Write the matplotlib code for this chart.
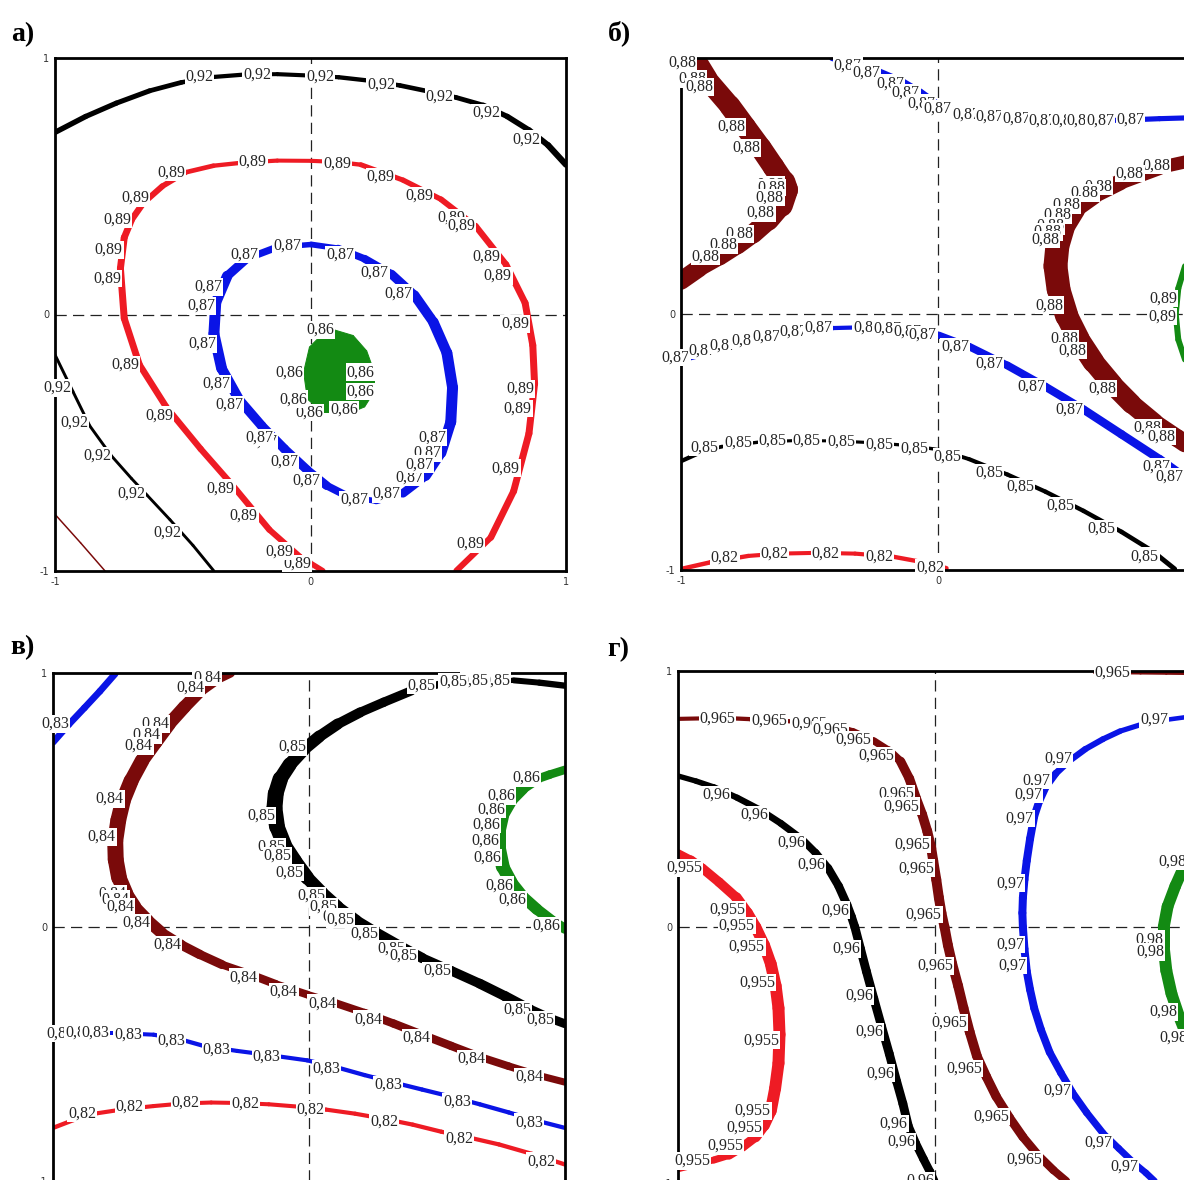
import numpy as np
import matplotlib
matplotlib.use("Agg")
import matplotlib.pyplot as plt
from matplotlib.collections import LineCollection

# ---- traced contour lines (coded factors, -1..1) ----
# panel a
a_092_top_x = [-1.0, -0.88, -0.76, -0.63, -0.505, -0.38, -0.251, -0.13, -0.012, 0.11, 0.227, 0.35, 0.466, 0.57, 0.676, 0.77, 0.855, 0.93, 1.0]
a_092_top_y = [0.71, 0.772, 0.824, 0.872, 0.905, 0.926, 0.936, 0.937, 0.932, 0.925, 0.912, 0.893, 0.869, 0.846, 0.816, 0.772, 0.719, 0.66, 0.584]
a_092_low_x = [-1.0, -0.93, -0.864, -0.78, -0.70, -0.64, -0.55, -0.46, -0.378]
a_092_low_y = [-0.157, -0.30, -0.434, -0.55, -0.64, -0.704, -0.80, -0.90, -1.0]
a_corner_x = [-1.0, -0.90, -0.804]
a_corner_y = [-0.779, -0.89, -1.0]
a_089_x = [0.048, -0.042, -0.161, -0.311, -0.43, -0.565, -0.67, -0.729, -0.744, -0.729, -0.70, -0.655, -0.58, -0.49, -0.38, -0.266, -0.13, 0.003, 0.10, 0.197, 0.362, 0.511, 0.646, 0.765, 0.84, 0.87, 0.877, 0.855, 0.795, 0.706, 0.571]
a_089_y = [-0.999, -0.944, -0.839, -0.659, -0.524, -0.36, -0.195, -0.015, 0.18, 0.30, 0.37, 0.434, 0.50, 0.554, 0.58, 0.592, 0.60, 0.599, 0.595, 0.584, 0.524, 0.449, 0.345, 0.195, 0.045, -0.12, -0.27, -0.464, -0.689, -0.869, -0.999]
a_087_x = [0.003, 0.108, 0.212, 0.317, 0.407, 0.481, 0.534, 0.556, 0.549, 0.511, 0.451, 0.362, 0.257, 0.152, 0.063, -0.012, -0.102, -0.191, -0.281, -0.348, -0.378, -0.371, -0.326, -0.251, -0.132, 0.003]
a_087_y = [0.273, 0.258, 0.217, 0.157, 0.075, -0.03, -0.15, -0.285, -0.419, -0.539, -0.629, -0.697, -0.727, -0.712, -0.667, -0.607, -0.524, -0.434, -0.33, -0.21, -0.075, 0.045, 0.15, 0.217, 0.262, 0.273]
a_086_x = [0.093, 0.167, 0.22, 0.25, 0.25, 0.212, 0.16, 0.048, -0.012, -0.027, -0.004, 0.048, 0.093]
a_086_y = [-0.06, -0.082, -0.142, -0.225, -0.30, -0.36, -0.382, -0.382, -0.33, -0.225, -0.127, -0.075, -0.06]

# panel b
b_088_left_x = [-0.95, -0.90, -0.81, -0.75, -0.69, -0.64, -0.60, -0.59, -0.61, -0.66, -0.72, -0.78, -0.85, -0.93, -1.0]
b_088_left_y = [1.0, 0.918, 0.813, 0.731, 0.649, 0.575, 0.515, 0.485, 0.425, 0.366, 0.313, 0.269, 0.224, 0.179, 0.13]
b_087_up_x = [-0.412, -0.323, -0.234, -0.145, -0.071, 0.003, 0.121, 0.27, 0.418, 0.566, 0.714, 0.862, 0.966, 1.0]
b_087_up_y = [1.0, 0.978, 0.948, 0.91, 0.866, 0.813, 0.784, 0.769, 0.757, 0.754, 0.757, 0.763, 0.766, 0.767]
b_087_low_x = [-1.0, -0.886, -0.767, -0.649, -0.53, -0.412, -0.293, -0.175, -0.071, 0.003, 0.121, 0.27, 0.418, 0.566, 0.714, 0.862, 0.966, 1.0]
b_087_low_y = [-0.179, -0.149, -0.119, -0.094, -0.07, -0.055, -0.052, -0.055, -0.067, -0.082, -0.127, -0.201, -0.284, -0.373, -0.47, -0.567, -0.642, -0.667]
b_085_x = [-1.0, -0.916, -0.841, -0.693, -0.545, -0.397, -0.249, -0.101, 0.003, 0.121, 0.27, 0.418, 0.566, 0.714, 0.833, 0.921]
b_085_y = [-0.575, -0.537, -0.518, -0.5, -0.494, -0.496, -0.503, -0.515, -0.53, -0.567, -0.627, -0.694, -0.769, -0.851, -0.925, -0.996]
b_082_x = [-1.0, -0.886, -0.738, -0.619, -0.471, -0.323, -0.175, -0.056, 0.033]
b_082_y = [-0.996, -0.97, -0.945, -0.936, -0.933, -0.936, -0.948, -0.97, -0.993]
b_088_right_x = [1.0, 0.966, 0.862, 0.709, 0.605, 0.531, 0.486, 0.464, 0.457, 0.469, 0.501, 0.546, 0.605, 0.679, 0.753, 0.842, 0.931, 1.0]
b_088_right_y = [0.6, 0.595, 0.572, 0.515, 0.463, 0.41, 0.336, 0.261, 0.187, 0.097, -0.007, -0.097, -0.187, -0.276, -0.351, -0.425, -0.485, -0.532]
b_089_x = [1.0, 0.965, 0.935, 0.925, 0.935, 0.965, 1.0]
b_089_y = [0.29, 0.2, 0.1, 0.0, -0.1, -0.19, -0.27]

# panel v
v_083_top_x = [-1.0, -0.937, -0.877, -0.817, -0.757]
v_083_top_y = [0.727, 0.799, 0.863, 0.928, 0.997]
v_084_x = [-0.307, -0.367, -0.427, -0.487, -0.547, -0.6, -0.652, -0.695, -0.727, -0.745, -0.757, -0.755, -0.742, -0.715, -0.682, -0.63, -0.577, -0.5, -0.427, -0.34, -0.247, -0.13, -0.007, 0.105, 0.217, 0.33, 0.442, 0.555, 0.667, 0.78, 0.892, 1.0]
v_084_y = [1.0, 0.971, 0.928, 0.866, 0.799, 0.727, 0.655, 0.575, 0.496, 0.42, 0.338, 0.265, 0.194, 0.13, 0.079, 0.025, -0.022, -0.07, -0.108, -0.148, -0.18, -0.225, -0.266, -0.3, -0.338, -0.38, -0.424, -0.468, -0.511, -0.548, -0.583, -0.611]
v_085_x = [1.0, 0.9, 0.8, 0.66, 0.517, 0.4, 0.292, 0.2, 0.112, 0.04, -0.022, -0.075, -0.112, -0.13, -0.135, -0.125, -0.097, -0.055, -0.007, 0.05, 0.112, 0.185, 0.262, 0.35, 0.442, 0.555, 0.667, 0.765, 0.862, 0.93, 1.0]
v_085_y = [0.95, 0.962, 0.971, 0.968, 0.957, 0.93, 0.885, 0.845, 0.799, 0.75, 0.698, 0.64, 0.583, 0.525, 0.468, 0.395, 0.324, 0.26, 0.194, 0.135, 0.079, 0.025, -0.022, -0.072, -0.122, -0.172, -0.223, -0.272, -0.324, -0.355, -0.381]
v_086_x = [1.0, 0.94, 0.892, 0.835, 0.787, 0.755, 0.742, 0.742, 0.757, 0.79, 0.832, 0.89, 0.952, 1.0]
v_086_y = [0.619, 0.6, 0.583, 0.545, 0.496, 0.44, 0.381, 0.31, 0.237, 0.175, 0.122, 0.07, 0.022, -0.007]
v_083_low_x = [-1.0, -0.88, -0.757, -0.607, -0.5, -0.412, -0.28, -0.157, -0.007, 0.1, 0.217, 0.33, 0.442, 0.555, 0.667, 0.78, 0.892, 1.0]
v_083_low_y = [-0.424, -0.417, -0.417, -0.424, -0.443, -0.468, -0.488, -0.504, -0.525, -0.55, -0.583, -0.612, -0.64, -0.668, -0.698, -0.73, -0.763, -0.791]
v_082_x = [-1.0, -0.92, -0.832, -0.72, -0.607, -0.495, -0.382, -0.27, -0.157, -0.045, 0.067, 0.18, 0.292, 0.405, 0.517, 0.63, 0.742, 0.87, 1.0]
v_082_y = [-0.791, -0.76, -0.734, -0.717, -0.705, -0.695, -0.691, -0.693, -0.698, -0.707, -0.719, -0.735, -0.755, -0.778, -0.806, -0.83, -0.856, -0.893, -0.935]

# panel g
g_0965_top_x = [0.62, 0.7, 0.8, 0.9, 1.0]
g_0965_top_y = [0.994, 0.993, 0.992, 0.991, 0.99]
g_0965_x = [-1.0, -0.9, -0.832, -0.72, -0.609, -0.5, -0.401, -0.32, -0.238, -0.18, -0.134, -0.1, -0.074, -0.05, -0.03, -0.015, -0.007, 0.005, 0.015, 0.025, 0.037, 0.05, 0.067, 0.09, 0.111, 0.135, 0.163, 0.2, 0.238, 0.29, 0.342, 0.4, 0.461, 0.52]
g_0965_y = [0.813, 0.815, 0.817, 0.812, 0.806, 0.8, 0.791, 0.765, 0.727, 0.69, 0.647, 0.58, 0.504, 0.44, 0.374, 0.31, 0.259, 0.185, 0.115, 0.055, 0.0, -0.07, -0.144, -0.23, -0.317, -0.41, -0.504, -0.585, -0.662, -0.745, -0.82, -0.89, -0.95, -1.0]
g_096_x = [-1.0, -0.93, -0.862, -0.77, -0.684, -0.6, -0.52, -0.465, -0.416, -0.375, -0.342, -0.325, -0.312, -0.29, -0.267, -0.238, -0.208, -0.178, -0.149, -0.125, -0.104, -0.075, -0.045, -0.02, 0.0]
g_096_y = [0.59, 0.57, 0.547, 0.505, 0.46, 0.405, 0.345, 0.29, 0.23, 0.16, 0.086, 0.04, 0.0, -0.085, -0.173, -0.28, -0.388, -0.495, -0.604, -0.69, -0.777, -0.845, -0.906, -0.955, -1.0]
g_0955_x = [-1.0, -0.95, -0.906, -0.84, -0.773, -0.73, -0.698, -0.665, -0.639, -0.62, -0.609, -0.605, -0.609, -0.622, -0.639, -0.665, -0.698, -0.75, -0.802, -0.86, -0.906, -0.96, -1.0]
g_0955_y = [0.288, 0.262, 0.23, 0.175, 0.115, 0.055, 0.0, -0.07, -0.144, -0.23, -0.317, -0.42, -0.532, -0.63, -0.719, -0.775, -0.82, -0.86, -0.892, -0.91, -0.921, -0.935, -0.945]
g_097_x = [1.0, 0.978, 0.89, 0.802, 0.72, 0.654, 0.585, 0.52, 0.47, 0.431, 0.405, 0.386, 0.37, 0.357, 0.348, 0.342, 0.34, 0.342, 0.348, 0.357, 0.37, 0.386, 0.412, 0.446, 0.49, 0.535, 0.59, 0.654, 0.715, 0.773, 0.82, 0.862]
g_097_y = [0.823, 0.82, 0.808, 0.791, 0.765, 0.734, 0.695, 0.647, 0.6, 0.547, 0.49, 0.432, 0.345, 0.259, 0.185, 0.115, 0.055, 0.0, -0.085, -0.173, -0.245, -0.317, -0.4, -0.489, -0.57, -0.647, -0.725, -0.806, -0.865, -0.921, -0.96, -1.0]
g_098_x = [1.0, 0.975, 0.935, 0.905, 0.89, 0.89, 0.9, 0.92, 0.95, 0.985, 1.0]
g_098_y = [0.32, 0.25, 0.16, 0.08, 0.0, -0.08, -0.17, -0.26, -0.35, -0.44, -0.47]

RED = "#ee1b24"
BLUE = "#0a14e6"
GREEN = "#138a13"
DRED = "#7a0a0a"
BLACK = "#000000"

W, H = 1184, 1180
fig = plt.figure(figsize=(W / 100, H / 100), dpi=100)


def add_panel(left, top, right, bottom):
    return fig.add_axes([left / W, 1 - bottom / H, (right - left) / W, (bottom - top) / H])


def setup(ax):
    ax.set_xlim(-1, 1)
    ax.set_ylim(-1, 1)
    ax.set_xticks([-1, 0, 1])
    ax.set_yticks([-1, 0, 1])
    ax.set_xticklabels(["-1", "0", "1"])
    ax.set_yticklabels(["-1", "0", "1"])
    ax.tick_params(length=0, labelsize=7, pad=4, labelcolor="#333333")
    for s in ax.spines.values():
        s.set_linewidth(2.0)
    ax.axhline(0, color="#222222", lw=0.9, ls=(0, (9, 5)), zorder=1)
    ax.axvline(0, color="#222222", lw=0.9, ls=(0, (9, 5)), zorder=1)


def point_at(xs, ys, t):
    i = min(int(np.floor(t)), len(xs) - 2)
    f = t - i
    return xs[i] + f * (xs[i + 1] - xs[i]), ys[i] + f * (ys[i + 1] - ys[i])


def draw(ax, xs, ys, level, color, wmin, wmax, labels):
    pts = np.column_stack([xs, ys])
    segs = np.stack([pts[:-1], pts[1:]], axis=1)
    d = np.diff(pts, axis=0)
    steep = np.abs(d[:, 1]) / np.hypot(d[:, 0], d[:, 1])
    lw = (wmin + (wmax - wmin) * steep) * 0.72
    ax.add_collection(LineCollection(segs, colors=color, linewidths=lw,
                                     capstyle="round", joinstyle="round", zorder=2))
    txt = f"{level:g}".replace(".", ",")
    for t in labels:
        x, y = point_at(xs, ys, t)
        ax.text(x, y, txt, ha="right", va="center", fontsize=11.5,
                family="Liberation Serif", color="#262626", zorder=4, clip_on=False,
                bbox=dict(boxstyle="square,pad=0.05", fc="white", ec="none"))


ax_a = add_panel(55, 58, 566, 571)
ax_b = add_panel(681, 58, 1195, 570)
ax_v = add_panel(53, 673, 565, 1181)
ax_g = add_panel(678, 671, 1192, 1183)
for ax in (ax_a, ax_b, ax_v, ax_g):
    setup(ax)

# a)
draw(ax_a, a_092_top_x, a_092_top_y, 0.92, BLACK, 4, 7, [5.0, 6.8, 8.85, 10.85, 12.9, 14.7, 16.6])
draw(ax_a, a_092_low_x, a_092_low_y, 0.92, BLACK, 2.5, 3, [0.9, 1.9, 3.0, 4.9, 6.5])
draw(ax_a, a_corner_x, a_corner_y, 0.95, DRED, 1.5, 1.5, [])
draw(ax_a, a_089_x, a_089_y, 0.89, RED, 4, 7,
     [0.5, 1.2, 2.3, 2.9, 4.8, 6.0, 7.8, 8.6, 10.0, 11.3, 13.0, 15.7, 18.6, 19.8,
      20.8, 21.7, 22.0, 22.8, 23.3, 24.5, 26.1, 26.5, 27.6, 29.2])
draw(ax_a, a_087_x, a_087_y, 0.87, BLUE, 5, 11,
     [24.7, 23.4, 1.6, 2.9, 3.9, 21.6, 20.9, 19.7, 18.5, 17.8, 16.3, 16.5, 15.4,
      14.3, 12.3, 11.1, 10.1, 8.5, 9.0, 9.5])
ax_a.fill(a_086_x, a_086_y, color=GREEN, lw=0, zorder=2)
draw(ax_a, a_086_x, a_086_y, 0.86, GREEN, 1, 1, [0.0, 3.0, 4.0, 5.5, 7.0, 8.0, 9.0])

# б)
draw(ax_b, b_088_left_x, b_088_left_y, 0.88, DRED, 10, 24,
     [0.2, 1.0, 1.3, 3.0, 4.0, 6.3, 6.7, 7.5, 8.5, 10.0, 11.0, 12.0])
draw(ax_b, b_087_up_x, b_087_up_y, 0.87, BLUE, 5, 10,
     [1.3, 2.1, 3.2, 4.0, 4.8, 5.4, 6.3, 6.9, 7.6, 8.3, 8.9, 9.3, 9.8, 10.6])
draw(ax_b, b_087_low_x, b_087_low_y, 0.87, BLUE, 4, 12,
     [0.3, 1.2, 1.9, 2.6, 3.3, 4.2, 5.0, 6.6, 7.3, 8.1, 8.9, 10.0, 10.9, 12.0, 13.0, 15.4, 15.9])
draw(ax_b, b_085_x, b_085_y, 0.85, BLACK, 3, 6,
     [1.8, 2.8, 3.7, 4.6, 5.5, 6.5, 7.6, 8.75, 9.9, 10.7, 11.75, 12.85, 14.3])
draw(ax_b, b_082_x, b_082_y, 0.82, RED, 4, 6, [1.75, 3.25, 4.6, 6.0, 7.9])
draw(ax_b, b_088_right_x, b_088_right_y, 0.88, DRED, 10, 24,
     [1.6, 2.4, 3.3, 3.8, 4.7, 5.3, 5.9, 6.2, 6.6, 9.6, 11.0, 11.5, 13.2, 15.3, 15.9])
draw(ax_b, b_089_x, b_089_y, 0.89, GREEN, 4, 6, [2.4, 3.1])

# в)
draw(ax_v, v_083_top_x, v_083_top_y, 0.83, BLUE, 6, 7, [1.0])
draw(ax_v, v_084_x, v_084_y, 0.84, DRED, 4, 16,
     [0.6, 1.7, 4.0, 4.6, 5.2, 7.9, 9.8, 13.0, 13.4, 14.0, 15.2, 17.0, 20.4, 21.7,
      23.0, 24.6, 26.3, 28.2, 30.2])
draw(ax_v, v_085_x, v_085_y, 0.85, BLACK, 5, 16,
     [2.1, 2.7, 3.3, 4.2, 9.8, 14.4, 16.1, 16.7, 17.7, 19.2, 20.0, 20.7, 20.9, 22.1,
      23.3, 23.8, 25.0, 28.1, 29.4])
draw(ax_v, v_086_x, v_086_y, 0.86, GREEN, 6, 14, [1.8, 3.6, 4.6, 5.6, 6.6, 7.5, 9.2, 10.3, 12.6])
draw(ax_v, v_083_low_x, v_083_low_y, 0.83, BLUE, 4, 5,
     [0.7, 1.3, 1.8, 2.7, 4.2, 5.8, 7.3, 9.2, 11.3, 13.7, 16.2])
draw(ax_v, v_082_x, v_082_y, 0.82, RED, 4, 5, [2.0, 3.66, 5.6, 7.66, 9.94, 12.5, 15.1, 17.7])

# г)
draw(ax_g, g_0965_top_x, g_0965_top_y, 0.965, DRED, 3, 3, [1.6])
draw(ax_g, g_0965_x, g_0965_y, 0.965, DRED, 4, 10,
     [2.5, 4.3, 5.8, 6.8, 7.9, 9.5, 11.8, 12.5, 14.8, 16.4, 19.1, 22.1, 24.6, 26.6,
      28.95, 31.3])
draw(ax_g, g_096_x, g_096_y, 0.96, BLACK, 4, 9,
     [2.7, 4.4, 6.25, 7.75, 10.45, 13.0, 14.9, 16.2, 17.7, 19.9, 20.9, 23.8])
draw(ax_g, g_0955_x, g_0955_y, 0.955, RED, 5, 12,
     [2.0, 4.8, 5.9, 7.1, 8.85, 11.2, 14.0, 15.2, 16.9, 19.3])
draw(ax_g, g_097_x, g_097_y, 0.97, BLUE, 4, 8,
     [1.8, 6.8, 8.5, 9.5, 11.1, 14.2, 17.8, 18.75, 24.9, 27.6, 29.4])
draw(ax_g, g_098_x, g_098_y, 0.98, GREEN, 6, 12, [0.9, 4.6, 5.2, 7.8, 8.9])

# panel letters
for label, px, py in [("а)", 11, 35), ("б)", 608, 33), ("в)", 10, 648), ("г)", 607, 650)]:
    fig.text(px / W, 1 - py / H, label, ha="left", va="center", fontsize=20,
             fontweight="bold", family="Liberation Serif")

fig.savefig("out.png", dpi=100)
